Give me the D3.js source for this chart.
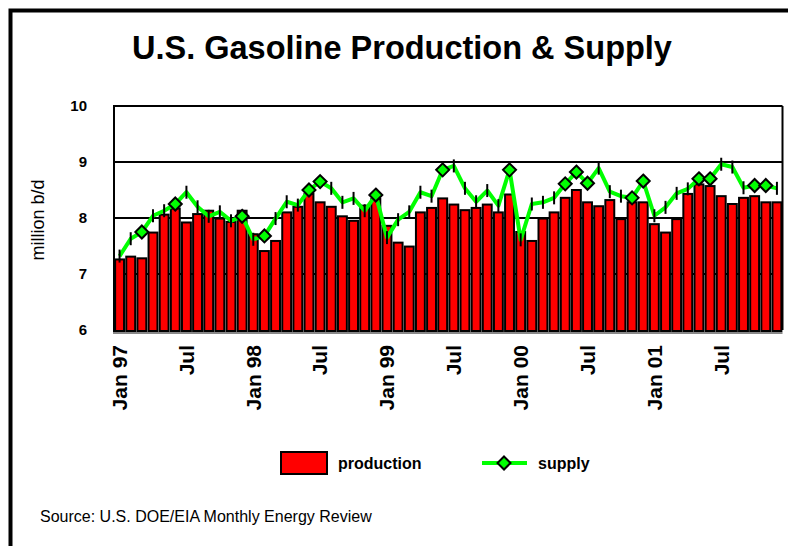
<!DOCTYPE html>
<html>
<head>
<meta charset="utf-8">
<script src="https://cdn.jsdelivr.net/npm/d3@7"></script>
<style>
  body { margin: 0; background: #fff; }
  svg { display: block; font-family: "Liberation Sans", Arial, sans-serif; }
</style>
</head>
<body>
<div class="chart"></div>
<script>
// monthly data Jan 1997 - Dec 2001, million b/d
var months = d3.range(60);
var tickLabels = ["Jan 97", "Jul", "Jan 98", "Jul", "Jan 99", "Jul", "Jan 00", "Jul", "Jan 01", "Jul"];

var production = [
	7.26, 7.31, 7.28, 7.74, 8.06, 8.17, 7.92, 8.07, 8.13, 7.99, 7.93, 8.13,
	7.71, 7.41, 7.59, 8.10, 8.20, 8.43, 8.28, 8.20, 8.03, 7.95, 8.22, 8.34,
	7.86, 7.56, 7.49, 8.10, 8.18, 8.35, 8.24, 8.14, 8.18, 8.24, 8.10, 8.42,
	7.75, 7.59, 7.99, 8.10, 8.36, 8.50, 8.28, 8.21, 8.32, 7.98, 8.28, 8.28,
	7.89, 7.74, 7.98, 8.43, 8.60, 8.57, 8.39, 8.25, 8.36, 8.39, 8.28, 8.28
];

var supply = [
	7.32, 7.63, 7.75, 8.04, 8.13, 8.25, 8.46, 8.20, 8.03, 8.11, 7.95, 8.03,
	7.62, 7.68, 7.99, 8.29, 8.23, 8.50, 8.65, 8.53, 8.28, 8.35, 8.13, 8.41,
	7.65, 7.97, 8.11, 8.46, 8.39, 8.86, 8.93, 8.53, 8.29, 8.49, 8.22, 8.86,
	7.61, 8.25, 8.28, 8.36, 8.61, 8.82, 8.62, 8.89, 8.47, 8.39, 8.36, 8.66,
	8.04, 8.19, 8.44, 8.52, 8.70, 8.70, 8.96, 8.91, 8.54, 8.58, 8.58, 8.53
];

// months whose supply marker shows as a full diamond (the rest are drawn edge-on)
var diamondMonths = [2, 5, 11, 13, 17, 18, 23, 29, 35, 40, 41, 42, 46, 47, 52, 53, 57, 58];

var yTicks = [6, 7, 8, 9, 10];

var W = 788, H = 546;
var plot = { left: 114, right: 782.5, top: 106, bottom: 330 };

var svg = d3.select(".chart").append("svg")
	.attr("width", W)
	.attr("height", H);

// outer frame
svg.append("rect")
	.attr("x", 10.5).attr("y", 10.5)
	.attr("width", W + 20).attr("height", H + 20)
	.attr("fill", "none")
	.attr("stroke", "#000")
	.attr("stroke-width", 4);

svg.append("text")
	.attr("x", 402)
	.attr("y", 59)
	.attr("text-anchor", "middle")
	.style("font-size", "32.5px")
	.style("font-weight", "bold")
	.text("U.S. Gasoline Production & Supply");

var x = d3.scaleBand()
	.domain(months)
	.range([plot.left, plot.right])
	.paddingInner(0.2)
	.paddingOuter(0.1);

var y = d3.scaleLinear()
	.domain([6, 10])
	.range([plot.bottom, plot.top]);

function cx(i) { return x(i) + x.bandwidth() / 2; }

// gridlines
svg.append("g").selectAll("line")
	.data(yTicks.slice(1))
	.enter().append("line")
	.attr("x1", plot.left).attr("x2", plot.right)
	.attr("y1", function (d) { return y(d); })
	.attr("y2", function (d) { return y(d); })
	.attr("stroke", "#000")
	.attr("stroke-width", 2);

// right & left border of plot
svg.append("line")
	.attr("x1", plot.right).attr("x2", plot.right)
	.attr("y1", plot.top).attr("y2", plot.bottom)
	.attr("stroke", "#000").attr("stroke-width", 2);
svg.append("line")
	.attr("x1", plot.left).attr("x2", plot.left)
	.attr("y1", plot.top - 1).attr("y2", plot.bottom + 2)
	.attr("stroke", "#000").attr("stroke-width", 2);

// y tick labels
svg.append("g").selectAll("text")
	.data(yTicks)
	.enter().append("text")
	.attr("x", 87)
	.attr("y", function (d) { return y(d); })
	.attr("dy", "0.35em")
	.attr("text-anchor", "end")
	.style("font-size", "15px")
	.style("font-weight", "bold")
	.text(function (d) { return d; });

svg.append("text")
	.attr("transform", "translate(44,220) rotate(-90)")
	.attr("text-anchor", "middle")
	.style("font-size", "18px")
	.text("million b/d");

// production bars
svg.append("g").selectAll("rect")
	.data(production)
	.enter().append("rect")
	.attr("x", function (d, i) { return x(i); })
	.attr("y", function (d) { return y(d); })
	.attr("width", x.bandwidth())
	.attr("height", function (d) { return y(6) - y(d) + 1; })
	.attr("fill", "#ff0000")
	.attr("stroke", "#000")
	.attr("stroke-width", 2);

// gray base line
svg.append("line")
	.attr("x1", plot.left - 1).attr("x2", plot.right)
	.attr("y1", plot.bottom + 3).attr("y2", plot.bottom + 3)
	.attr("stroke", "#888").attr("stroke-width", 2);

// supply line
var line = d3.line()
	.x(function (d, i) { return cx(i); })
	.y(function (d) { return y(d); });

svg.append("path")
	.datum(supply)
	.attr("d", line)
	.attr("fill", "none")
	.attr("stroke", "#00ff00")
	.attr("stroke-width", 4)
	.attr("stroke-linejoin", "round");

var points = supply.map(function (v, i) { return { i: i, v: v }; });

// edge-on markers
svg.append("g").selectAll("line")
	.data(points.filter(function (p) { return diamondMonths.indexOf(p.i) < 0; }))
	.enter().append("line")
	.attr("x1", function (p) { return cx(p.i); })
	.attr("x2", function (p) { return cx(p.i); })
	.attr("y1", function (p) { return y(p.v) - 6.5; })
	.attr("y2", function (p) { return y(p.v) + 6.5; })
	.attr("stroke", "#000")
	.attr("stroke-width", 2);

var diamond = "M0,-6.5L6.5,0L0,6.5L-6.5,0Z";

svg.append("g").selectAll("path")
	.data(points.filter(function (p) { return diamondMonths.indexOf(p.i) >= 0; }))
	.enter().append("path")
	.attr("transform", function (p) {
		return "translate(" + cx(p.i) + "," + y(p.v) + ")";
	})
	.attr("d", diamond)
	.attr("fill", "#00ff00")
	.attr("stroke", "#000")
	.attr("stroke-width", 2);

// x labels every 6 months
svg.append("g").selectAll("text")
	.data(tickLabels)
	.enter().append("text")
	.attr("transform", function (d, k) {
		return "translate(" + cx(k * 6) + ",345) rotate(-90)";
	})
	.attr("dy", "0.35em")
	.attr("text-anchor", "end")
	.style("font-size", "21px")
	.style("font-weight", "bold")
	.text(function (d) { return d; });

// legend
svg.append("rect")
	.attr("x", 281).attr("y", 452)
	.attr("width", 46).attr("height", 22)
	.attr("fill", "#ff0000")
	.attr("stroke", "#000")
	.attr("stroke-width", 2);
svg.append("text")
	.attr("x", 338).attr("y", 469)
	.style("font-size", "16px")
	.style("font-weight", "bold")
	.text("production");

svg.append("line")
	.attr("x1", 482).attr("x2", 527)
	.attr("y1", 463).attr("y2", 463)
	.attr("stroke", "#00ff00")
	.attr("stroke-width", 4);
svg.append("path")
	.attr("transform", "translate(504,463)")
	.attr("d", diamond)
	.attr("fill", "#00ff00")
	.attr("stroke", "#000")
	.attr("stroke-width", 2);
svg.append("text")
	.attr("x", 538).attr("y", 469)
	.style("font-size", "16px")
	.style("font-weight", "bold")
	.text("supply");

svg.append("text")
	.attr("x", 40).attr("y", 522)
	.style("font-size", "16px")
	.text("Source: U.S. DOE/EIA Monthly Energy Review");
</script>
</body>
</html>
